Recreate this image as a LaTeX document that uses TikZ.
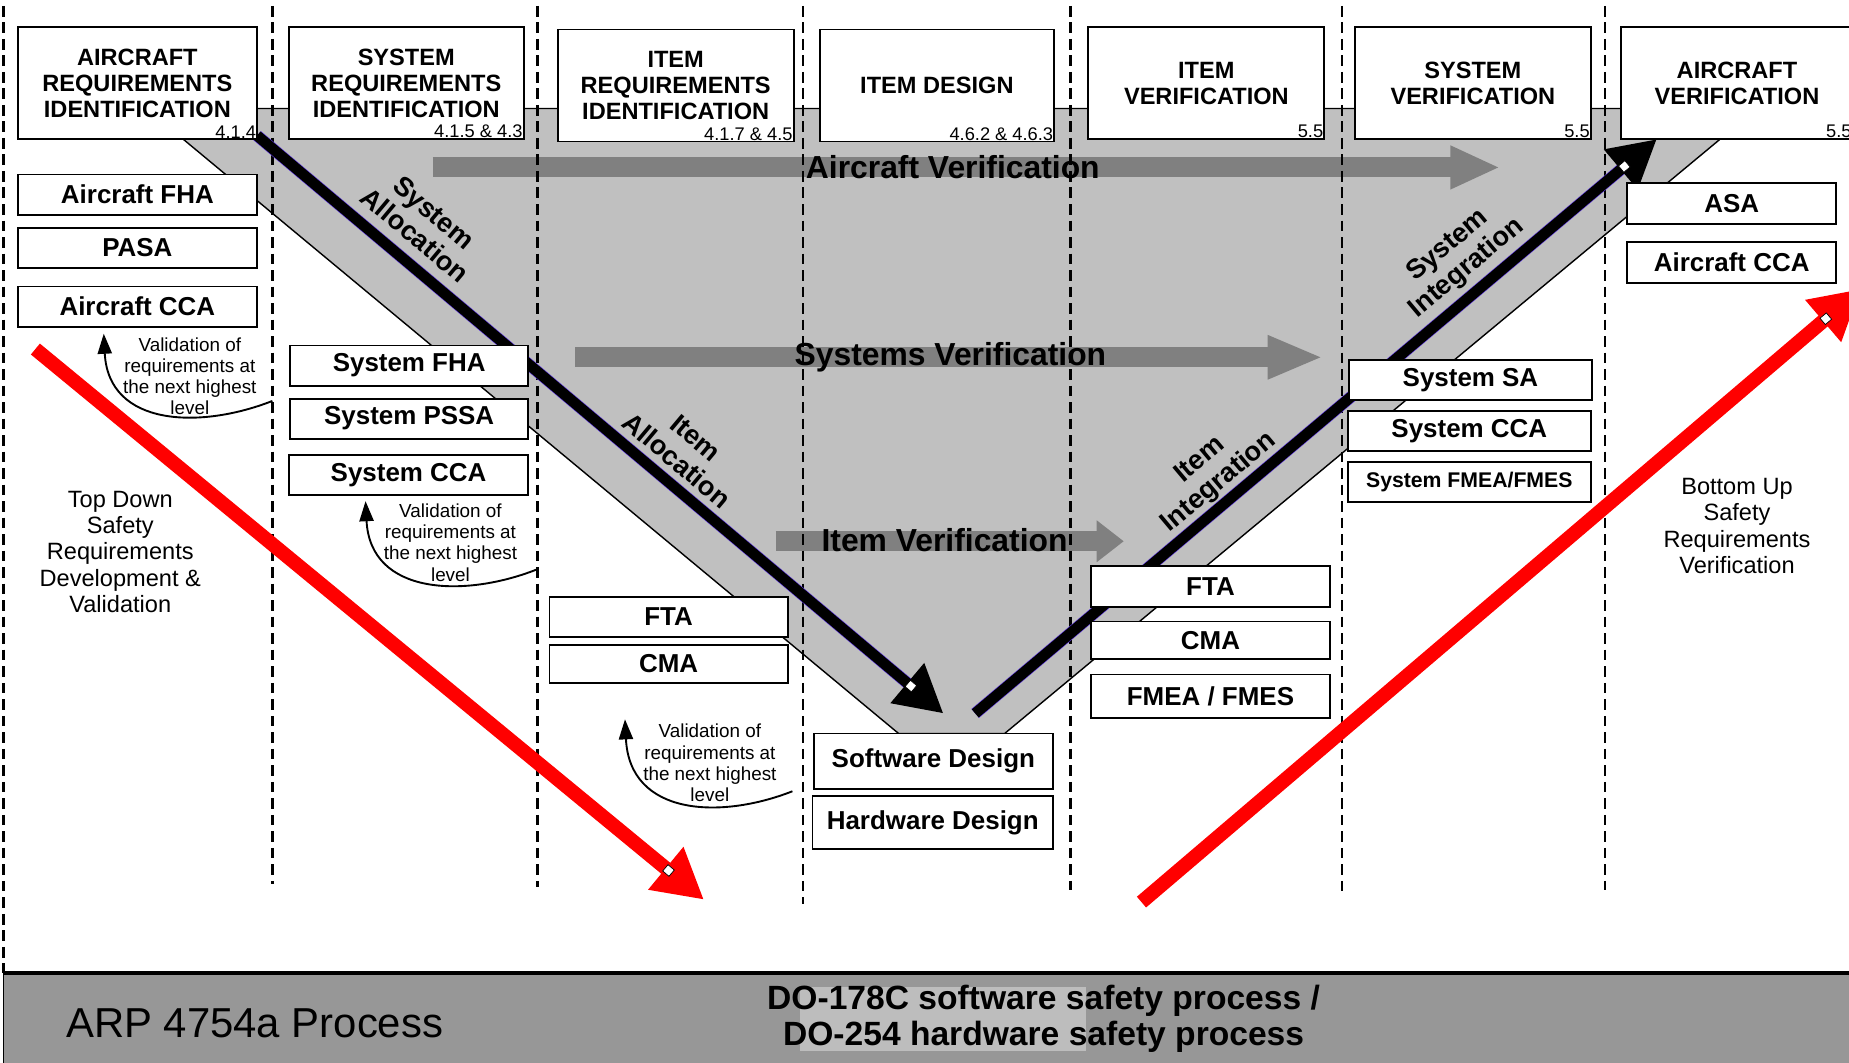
\documentclass[tikz,border=0pt]{standalone}
\usepackage{fontspec}
\setmainfont{Liberation Sans}
\usetikzlibrary{arrows.meta,calc}
\definecolor{vfill}{HTML}{C0C0C0}
\definecolor{flowgray}{HTML}{808080}
\definecolor{bandgray}{HTML}{979797}
\definecolor{bandlight}{HTML}{BDBDBD}
\definecolor{rimviolet}{HTML}{5B35E0}
\begin{document}
\begin{tikzpicture}[x=1pt,y=-1pt,
    stage/.style={draw,fill=white,line width=1.6pt,minimum width=200pt,
      minimum height=95pt,align=center,inner sep=0pt,
      font=\fontsize{20}{22}\selectfont\bfseries},
    secno/.style={font=\fontsize{15.5}{17}\selectfont,inner sep=1.5pt},
    analysis/.style={draw,fill=white,line width=1.6pt,minimum width=202pt,
      minimum height=34pt,inner sep=0pt,font=\fontsize{22}{24}\selectfont\bfseries},
    flow/.style={line width=17pt,flowgray,-{Triangle[length=42pt,width=34pt]}},
    flowtext/.style={font=\fontsize{27}{30}\selectfont\bfseries},
    diag/.style={align=center,font=\fontsize{23}{25}\selectfont\bfseries},
    note/.style={align=center,font=\fontsize{16}{18}\selectfont},
    side/.style={align=center,font=\fontsize{20}{22.3}\selectfont},
    divider/.style={line width=2.2pt,dash pattern=on 9pt off 5pt},
    valarrow/.style={line width=1.6pt,-{Triangle[length=17pt,width=12pt]}},
    redarrow/.style={line width=12pt,red,-{Triangle[length=42pt,width=44pt]}},
    blackarrow/.style={line width=9pt,-{Triangle[length=40pt,width=42pt]}},
    notch/.style={draw,fill=white,line width=0.6pt,minimum size=7pt,inner sep=0pt}]
  \useasboundingbox (0,0) rectangle (1568,901);

  % V band
  \filldraw[fill=vfill,line width=1.2pt] (124,92) -- (1490,92) -- (852,622) -- (762,622) -- cycle;

  % verification flows
  \coordinate (acv from) at (367,142);
  \coordinate (acv to)   at (1272,142);
  \coordinate (syv from) at (488,303);
  \coordinate (syv to)   at (1122,303);
  \coordinate (itv from) at (658,459);
  \coordinate (itv to)   at (953,459);
  \draw[flow] (acv from) -- (acv to);
  \draw[flow,-{Triangle[length=47pt,width=34pt]}] (syv from) -- (syv to);
  \draw[flow,-{Triangle[length=23pt,width=34pt]}] (itv from) -- (itv to);
  \node[flowtext] (acv) at (808,142) {Aircraft Verification};
  \node[flowtext] (syv) at (806,303) {Systems Verification};
  \node[flowtext] (itv) at (801,458) {Item Verification};

  \foreach \x/\y in {3/825,231/750,456/752,681/767,908/755,1138/760,1361/755}
    \draw[divider] (\x,5) -- (\x,\y);

  % allocation / integration
  \coordinate (alloc from) at (218,115);
  \coordinate (alloc to)   at (800,605);
  \coordinate (integ from) at (827,605);
  \coordinate (integ to)   at (1405,118);
  \draw[line width=10pt,rimviolet,shorten >=38pt] (alloc from) -- (alloc to);
  \draw[blackarrow] (alloc from) -- (alloc to);
  \draw[line width=10pt,rimviolet,shorten >=38pt] (integ from) -- (integ to);
  \draw[blackarrow] (integ from) -- (integ to);
  \node[notch,rotate=-40] (alloc notch) at ($(alloc to)!36pt!(alloc from)$) {};
  \node[notch,rotate=40] (integ notch) at ($(integ to)!36pt!(integ from)$) {};

  \node[diag,rotate=-40] (sysalloc) at (360,190) {System\\Allocation};
  \node[diag,rotate=-40] (itemalloc) at (582,381) {Item\\Allocation};
  \node[diag,rotate=40] (sysinteg) at (1236,218) {System\\Integration};
  \node[diag,rotate=40] (iteminteg) at (1026,400) {Item\\Integration};

  % safety direction
  \coordinate (down from) at (30,296);
  \coordinate (down to)   at (597,763);
  \coordinate (up from)   at (968,765);
  \coordinate (up to)     at (1578,245);
  \draw[redarrow] (down from) -- (down to);
  \draw[redarrow] (up from) -- (up to);
  \node[notch,rotate=-40] (down notch) at ($(down to)!39pt!(down from)$) {};
  \node[notch,rotate=40] (up notch) at ($(up to)!39pt!(up from)$) {};

  % process stages
  \node[stage,minimum width=203pt,label={[secno,anchor=south east]south east:4.1.4}]
    (acreq) at (116.5,70.5) {AIRCRAFT\\REQUIREMENTS\\IDENTIFICATION};
  \node[stage,minimum width=199pt,label={[secno,anchor=south east]south east:4.1.5 \& 4.3}]
    (sysreq) at (344.5,70.5) {SYSTEM\\REQUIREMENTS\\IDENTIFICATION};
  \node[stage,label={[secno,anchor=south east]south east:4.1.7 \& 4.5}]
    (itemreq) at (573,72.5) {ITEM\\REQUIREMENTS\\IDENTIFICATION};
  \node[stage,minimum width=199pt,label={[secno,anchor=south east]south east:4.6.2 \& 4.6.3}]
    (itemdes) at (794.5,72.5) {ITEM DESIGN};
  \node[stage,label={[secno,anchor=south east]south east:5.5}]
    (itemver) at (1023,70.5) {ITEM\\VERIFICATION};
  \node[stage,label={[secno,anchor=south east]south east:5.5}]
    (sysver) at (1249,70.5) {SYSTEM\\VERIFICATION};
  \node[stage,minimum width=196pt,label={[secno,anchor=south east]south east:5.5}]
    (acver) at (1473,70.5) {AIRCRAFT\\VERIFICATION};

  % safety analyses
  \node[analysis,minimum width=203pt] (acfha) at (116.5,165) {Aircraft FHA};
  \node[analysis,minimum width=203pt] (pasa)  at (116.5,210) {PASA};
  \node[analysis,minimum width=203pt] (acca)  at (116.5,260) {Aircraft CCA};
  \node[analysis] (sysfha)  at (347,310) {System FHA};
  \node[analysis] (syspssa) at (347,355) {System PSSA};
  \node[analysis,minimum width=203pt] (sysccaL) at (346.5,403) {System CCA};
  \node[analysis] (ftaL) at (567,523) {FTA};
  \node[analysis,minimum height=32pt] (cmaL) at (567,563) {CMA};
  \node[analysis,minimum width=203pt,minimum height=47pt] (swdes) at (791.5,645.5) {Software Design};
  \node[analysis,minimum width=204pt,minimum height=45pt] (hwdes) at (791,697.5) {Hardware Design};
  \node[analysis,minimum width=203pt,minimum height=35pt] (ftaR) at (1026.5,497.5) {FTA};
  \node[analysis,minimum width=203pt,minimum height=32pt] (cmaR) at (1026.5,543) {CMA};
  \node[analysis,minimum width=203pt,minimum height=37pt] (fmeaR) at (1026.5,590.5) {FMEA / FMES};
  \node[analysis,minimum width=206pt] (syssa) at (1247,322.5) {System SA};
  \node[analysis,minimum width=206pt] (sysccaR) at (1246,365.5) {System CCA};
  \node[analysis,minimum width=206pt,font=\fontsize{18}{20}\selectfont\bfseries]
    (sysfmea) at (1246,408.5) {System FMEA/FMES};
  \node[analysis,minimum width=177pt,minimum height=35pt] (asa) at (1468.5,172.5) {ASA};
  \node[analysis,minimum width=177pt,minimum height=35pt] (accaR) at (1468.5,222.5) {Aircraft CCA};

  % validation notes
  \node[note] (val1) at (161,319) {Validation of\\requirements at\\the next highest\\level};
  \node[note] (val2) at (382,460) {Validation of\\requirements at\\the next highest\\level};
  \node[note] (val3) at (602,647) {Validation of\\requirements at\\the next highest\\level};
  \coordinate (val1 from) at (231,340);
  \coordinate (val1 tip)  at (88,283);
  \coordinate (val2 from) at (455,483);
  \coordinate (val2 tip)  at (310,425);
  \coordinate (val3 from) at (672,671);
  \coordinate (val3 tip)  at (530,610);
  \draw[valarrow] (val1 from) .. controls (170,364) and (92,362) .. (val1 tip);
  \draw[valarrow] (val2 from) .. controls (394,507) and (314,505) .. (val2 tip);
  \draw[valarrow] (val3 from) .. controls (611,695) and (534,692) .. (val3 tip);

  \node[side] (topdown) at (102,468) {Top Down\\Safety\\Requirements\\Development \&\\Validation};
  \node[side] (bottomup) at (1473,446) {Bottom Up\\Safety\\Requirements\\Verification};

  % process band
  \filldraw[fill=bandgray,line width=1.5pt] (3,825) rectangle (1572,904);
  \draw[line width=3pt] (3,825) -- (1572,825);
  \fill[bandlight] (678,837) rectangle (921,891);
  \node[font=\fontsize{35.5}{38}\selectfont] (arp) at (216,868) {ARP 4754a Process};
  \node[align=center,font=\fontsize{28.5}{31}\selectfont\bfseries]
    (doproc) at (885,864) {DO-178C software safety process /\\DO-254 hardware safety process};
\end{tikzpicture}
\end{document}
